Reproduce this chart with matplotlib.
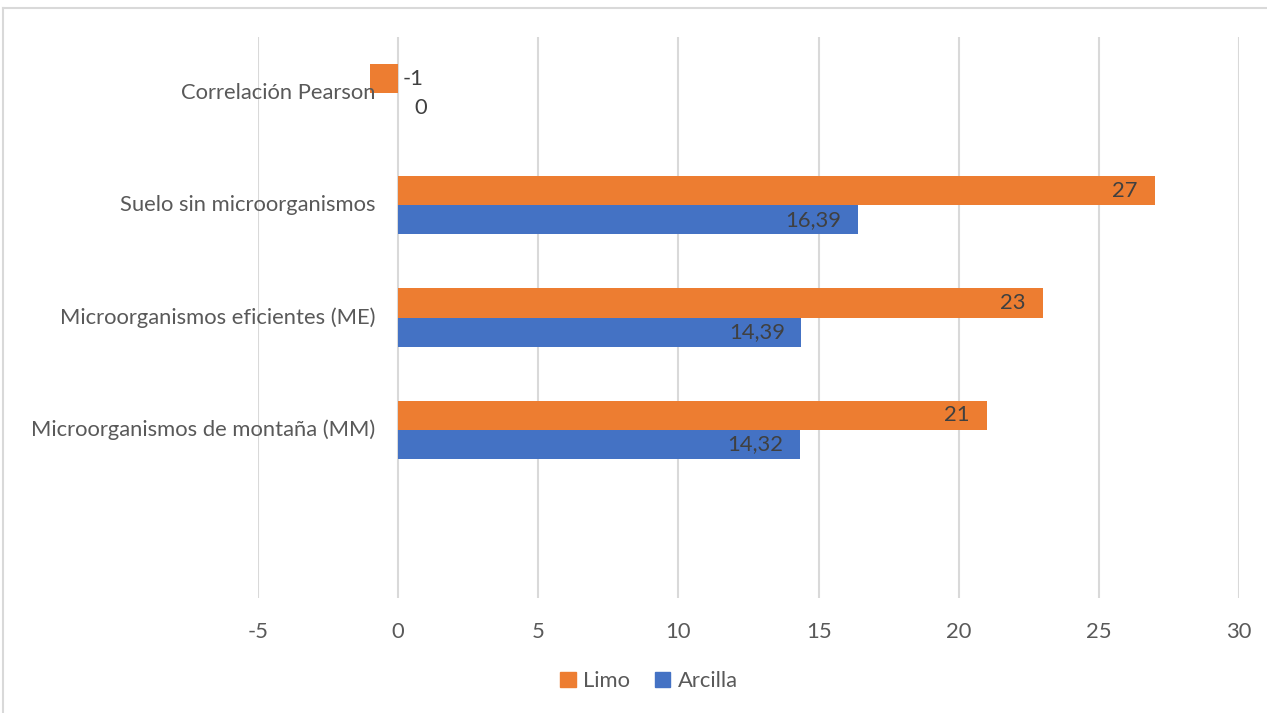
import matplotlib
matplotlib.use("Agg")
import matplotlib.pyplot as plt
from matplotlib.lines import Line2D
from matplotlib.patches import Patch

plt.rcParams['font.family'] = ['Lato', 'DejaVu Sans']

# Categories from bottom to top (the bottom slot is an empty category)
categories = ["", "Microorganismos de montaña (MM)", "Microorganismos eficientes (ME)",
              "Suelo sin microorganismos", "Correlación Pearson"]
limo = [None, 21, 23, 27, -1]
arcilla = [None, 14.32, 14.39, 16.39, 0]
limo_labels = ["", "21", "23", "27", "-1"]
arcilla_labels = ["", "14,32", "14,39", "16,39", "0"]
x_ticks = [-5, 0, 5, 10, 15, 20, 25, 30]

ORANGE = "#ED7D31"
BLUE = "#4472C4"
TEXT = "#595959"
LABEL = "#404040"
GRID = "#D9D9D9"
FS = 15.8

W, H = 1267, 713
fig = plt.figure(figsize=(W / 100, H / 100), dpi=100)
ax = fig.add_axes([258 / W, 1 - 598 / H, (1239 - 258) / W, (598 - 37) / H])

bar_h = 0.26
ys = list(range(len(categories)))
for y, lv, av in zip(ys, limo, arcilla):
    if lv is not None:
        ax.barh(y + bar_h / 2, lv, height=bar_h, color=ORANGE, zorder=3)
    if av is not None:
        ax.barh(y - bar_h / 2, av, height=bar_h, color=BLUE, zorder=3)

ax.set_xlim(-5, 30)
ax.set_ylim(-0.5, len(categories) - 0.5)
ax.set_xticks(x_ticks)
ax.set_xticklabels([str(t) for t in x_ticks])
ax.tick_params(axis='x', length=0, pad=17, labelsize=FS, labelcolor=TEXT)
ax.set_yticks([])
ax.grid(axis='x', color=GRID, linewidth=1.5, zorder=0)
for s in ax.spines.values():
    s.set_visible(False)

# Value labels
for y, lv, av, ll, al in zip(ys, limo, arcilla, limo_labels, arcilla_labels):
    if lv is None:
        continue
    if lv > 0:
        ax.annotate(ll, (lv, y + bar_h / 2), xytext=(-17, 0), textcoords='offset pixels',
                    ha='right', va='center', fontsize=FS, color=LABEL, zorder=5)
    else:
        ax.annotate(ll, (0, y + bar_h / 2), xytext=(4, 0), textcoords='offset pixels',
                    ha='left', va='center', fontsize=FS, color=LABEL, zorder=5)
    if av > 0:
        ax.annotate(al, (av, y - bar_h / 2), xytext=(-16, 0), textcoords='offset pixels',
                    ha='right', va='center', fontsize=FS, color=LABEL, zorder=5)
    else:
        ax.annotate(al, (0, y - bar_h / 2), xytext=(16, 0), textcoords='offset pixels',
                    ha='left', va='center', fontsize=FS, color=LABEL, zorder=5)

# Category labels next to the zero axis
for y, c in zip(ys, categories):
    ax.annotate(c, (0, y), xytext=(-23, 0), textcoords='offset pixels',
                ha='right', va='center', fontsize=FS, color=TEXT, zorder=6,
                annotation_clip=False)

# Legend
handles = [Patch(color=ORANGE, label="Limo"), Patch(color=BLUE, label="Arcilla")]
fig.legend(handles=handles, loc='center', bbox_to_anchor=(649 / W, 1 - 681 / H),
           ncol=2, frameon=False, fontsize=FS, handlelength=0.7, handleheight=0.7,
           handletextpad=0.35, columnspacing=1.1, labelcolor=TEXT)

# Chart frame
fig.add_artist(Line2D([3 / W, 3 / W], [0, 1 - 8 / H], color=GRID, linewidth=1.5))
fig.add_artist(Line2D([3 / W, 1], [1 - 8 / H, 1 - 8 / H], color=GRID, linewidth=1.5))

fig.savefig("out.png", dpi=100, facecolor="white")
